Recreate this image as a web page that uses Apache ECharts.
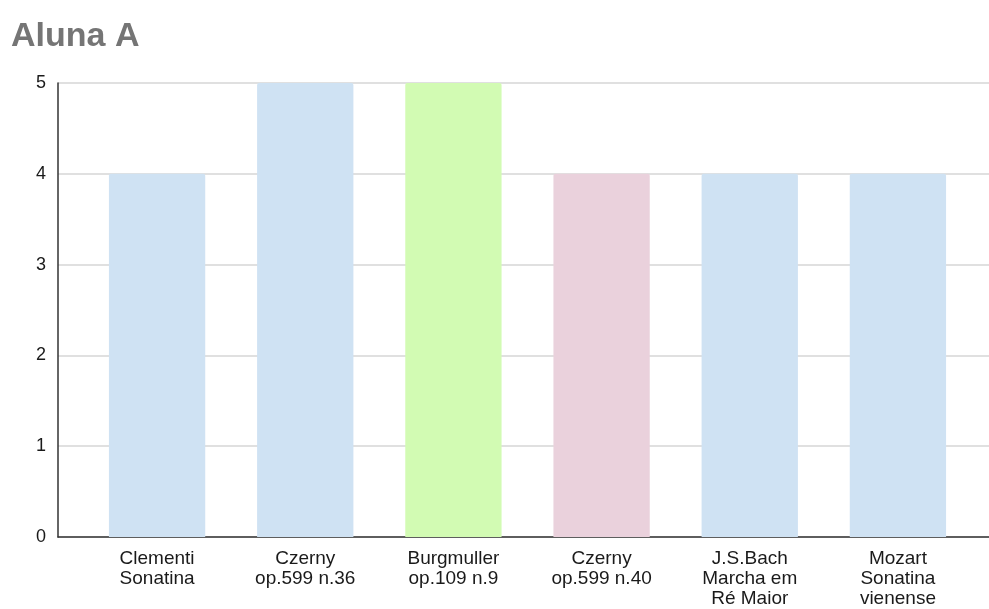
<!DOCTYPE html>
<html>
<head>
<meta charset="utf-8">
<script src="https://cdn.jsdelivr.net/npm/echarts@6/dist/echarts.min.js"></script>
<style>
  html, body { margin: 0; padding: 0; background: #fff; }
  #chart { width: 989px; height: 609px; }
</style>
</head>
<body>
<div id="chart"></div>
<script>
// Pieces studied by the student and the score for each
const pieces = [
  'Clementi\nSonatina',
  'Czerny\nop.599 n.36',
  'Burgmuller\nop.109 n.9',
  'Czerny\nop.599 n.40',
  'J.S.Bach\nMarcha em\nRé Maior',
  'Mozart\nSonatina\nvienense'
];
const scores = [4, 5, 5, 4, 4, 4];
const barColors = ['#cfe2f3', '#cfe2f3', '#d2fbb3', '#ead1dc', '#cfe2f3', '#cfe2f3'];
const yTicks = [0, 1, 2, 3, 4, 5];

const FONT = '"Liberation Sans", Arial, sans-serif';
const chart = echarts.init(document.getElementById('chart'), null, { renderer: 'canvas' });

chart.setOption({
  animation: false,
  backgroundColor: '#ffffff',
  title: {
    text: 'Aluna A',
    left: 6,
    top: 15,
    textStyle: { fontFamily: FONT, fontSize: 34, fontWeight: 'bold', color: '#757575' }
  },
  grid: [
    // frame: value axis, gridlines and both axis lines
    { left: 58, right: 0, top: 83, bottom: 72, containLabel: false },
    // bars
    { left: 83, right: 17, top: 83, bottom: 72, containLabel: false }
  ],
  xAxis: [
    {
      gridIndex: 0, type: 'value', min: 0, max: 1,
      axisLine: { show: true, onZero: false, lineStyle: { color: '#333333', width: 1.5 } },
      axisTick: { show: false }, axisLabel: { show: false }, splitLine: { show: false }
    },
    {
      gridIndex: 1, type: 'category', data: pieces,
      axisLine: { show: false }, axisTick: { show: false },
      axisLabel: {
        interval: 0, margin: 12, color: '#1a1a1a',
        fontFamily: FONT, fontSize: 19, lineHeight: 20, align: 'center'
      }
    }
  ],
  yAxis: [
    {
      gridIndex: 0, type: 'value', min: yTicks[0], max: yTicks[yTicks.length - 1], interval: 1,
      axisLine: { show: true, lineStyle: { color: '#333333', width: 1.5 } },
      axisTick: { show: false },
      axisLabel: { margin: 12, color: '#1a1a1a', fontFamily: FONT, fontSize: 18 },
      splitLine: { show: true, lineStyle: { color: '#d6d6d6', width: 1.5 } }
    },
    {
      gridIndex: 1, type: 'value', min: yTicks[0], max: yTicks[yTicks.length - 1], interval: 1,
      show: false, splitLine: { show: false }
    }
  ],
  series: [
    {
      type: 'bar',
      xAxisIndex: 1, yAxisIndex: 1,
      barWidth: '65%',
      data: scores.map((v, i) => ({
        value: v,
        itemStyle: { color: barColors[i], borderRadius: [2, 2, 0, 0] }
      }))
    }
  ]
});
</script>
</body>
</html>
